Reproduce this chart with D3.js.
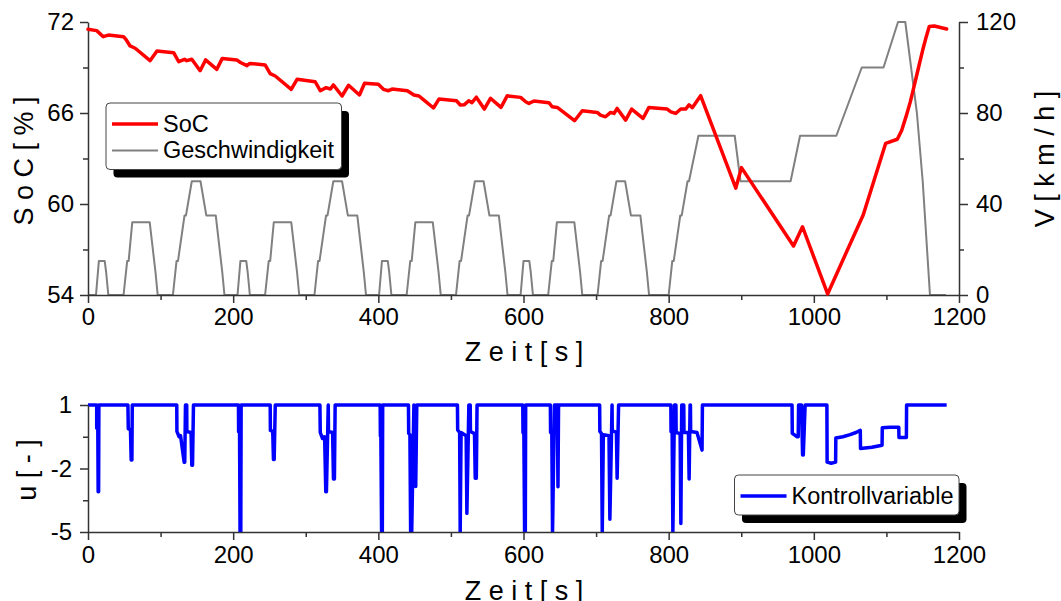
<!DOCTYPE html>
<html>
<head>
<meta charset="utf-8">
<script src="https://cdn.jsdelivr.net/npm/d3@7/dist/d3.min.js"></script>
<style>
  html, body { margin: 0; padding: 0; background: #fff; }
  svg { display: block; }
  text { font-family: "Liberation Sans", Arial, sans-serif; fill: #000; }
</style>
</head>
<body>
<svg id="chart" width="1061" height="601"></svg>
<script>
// ---- Fahrzyklus: Geschwindigkeit [km/h] über Zeit [s] ----
const speedTime = [
  0, 11, 15, 23, 25, 28, 49, 54, 56, 61, 85, 93, 96, 117, 122, 124, 133, 135, 143, 155, 163, 176, 185, 188,
  195, 206, 210, 218, 220, 223, 244, 249, 251, 256, 280, 288, 291, 312, 317, 319, 328, 330, 338, 350, 358, 371, 380, 383,
  390, 401, 405, 413, 415, 418, 439, 444, 446, 451, 475, 483, 486, 507, 512, 514, 523, 525, 533, 545, 553, 566, 575, 578,
  585, 596, 600, 608, 610, 613, 634, 639, 641, 646, 670, 678, 681, 702, 707, 709, 718, 720, 728, 740, 748, 761, 770, 773,
  780, 800, 805, 807, 816, 818, 826, 828, 841, 891, 899, 968, 981, 1031, 1066, 1096, 1116, 1126, 1142, 1150, 1160, 1182
];
const speedValue = [
  0, 0, 15, 15, 10, 0, 0, 15, 15, 32, 32, 10, 0, 0, 15, 15, 35, 35, 50, 50, 35, 35, 10, 0,
  0, 0, 15, 15, 10, 0, 0, 15, 15, 32, 32, 10, 0, 0, 15, 15, 35, 35, 50, 50, 35, 35, 10, 0,
  0, 0, 15, 15, 10, 0, 0, 15, 15, 32, 32, 10, 0, 0, 15, 15, 35, 35, 50, 50, 35, 35, 10, 0,
  0, 0, 15, 15, 10, 0, 0, 15, 15, 32, 32, 10, 0, 0, 15, 15, 35, 35, 50, 50, 35, 35, 10, 0,
  0, 0, 15, 15, 35, 35, 50, 50, 70, 70, 50, 50, 70, 70, 100, 100, 120, 120, 80, 50, 0, 0
];

// ---- Ladezustand SoC [%] ----
const socTime = [
  0, 12, 21, 28, 49, 53, 58, 65, 85.5, 95, 118, 125, 133, 136, 143, 154.5, 162, 177.5, 185,
  205, 210, 219, 223, 244, 251, 258, 280, 288, 313, 320, 328, 334, 338, 350, 359, 374, 381,
  400, 407, 414, 419, 440, 449, 456, 462.5, 476, 483.5, 507.6, 513, 518.6, 524.6, 529, 535, 546, 554.5, 569, 577.5,
  596, 603, 607.5, 614.5, 635, 639.5, 646.5, 670.3, 681, 701.6, 706, 713, 720, 724.6, 729, 740.7, 749, 764.6, 772.8,
  798, 803, 809.7, 816.6, 823.4, 828, 832.6, 844, 892.5, 900.3, 972, 984.4, 1019, 1068, 1099, 1115, 1121, 1127, 1133, 1138,
  1144, 1150, 1155, 1159, 1166, 1183
];
const socValue = [
  71.52, 71.43, 71.03, 71.14, 71.03, 70.8, 70.42, 70.27, 69.45, 70.09, 69.98, 69.38, 69.54, 69.45, 69.54, 68.79, 69.5, 68.88, 69.6,
  69.5, 69.33, 69.12, 69.27, 69.17, 68.6, 68.44, 67.56, 68.22, 68.06, 67.47, 67.67, 67.58, 67.85, 67.12, 67.83, 67.19, 67.96,
  67.89, 67.56, 67.47, 67.58, 67.47, 67.19, 67.12, 66.86, 66.33, 66.92, 66.81, 66.53, 66.55, 66.81, 66.68, 67.04, 66.26, 66.97, 66.37, 67.13,
  67.03, 66.74, 66.63, 66.79, 66.68, 66.41, 66.37, 65.49, 66.15, 66.04, 65.86, 65.75, 66.04, 65.97, 66.3, 65.53, 66.26, 65.64, 66.37,
  66.26, 66.08, 65.97, 66.26, 66.26, 66.53, 66.35, 67.14, 61.05, 62.4, 57.23, 58.5, 54.07, 59.28, 64.0, 64.27, 64.85, 65.76, 66.75, 67.74,
  68.95, 70.15, 71.05, 71.7, 71.74, 71.54
];

// ---- Kontrollvariable u [-] ----
const uTime = [
  0, 12, 12, 13.5, 14, 14.6, 15,
  55, 55.5, 58.5, 59.5, 60.5, 61,
  122.3, 122.5, 125.5, 127.5, 132.5, 133.3, 134.3, 136, 136.2, 142, 143, 144, 145.3,
  207.3, 207.5, 208.8, 209.5, 210.5, 211,
  251, 251.3, 254.5, 255.5, 256.5, 258,
  319.5, 320, 323, 326, 327.6, 328.5, 331, 331.3, 337, 338.2, 339.5, 340.5,
  402.5, 402.8, 403.5, 404.5, 405.5, 406,
  441.5, 441.8, 443.5, 444.5, 446, 449, 449.3, 450.5, 451.5, 453,
  509, 509.3, 512, 512.8, 514, 521, 522, 524.7, 526.6, 526.9, 532.5, 533.5, 535, 536,
  599, 599.3, 600.5, 601.5, 602.5, 603,
  637, 637.3, 639, 640, 642.6, 646.5, 647.5, 648.3,
  704.9, 705.2, 707.5, 708.5, 710, 717.8, 719, 722, 722.3, 728, 729, 731,
  803, 803.3, 804.8, 805.8, 808, 810, 810.3, 815.8, 816.8, 818, 820.8, 821.1, 827.2, 828.2, 829.5, 830, 830.3, 839, 846, 846.5,
  970, 970.3, 977, 978.5, 979, 983, 984.5, 985.5, 988,
  1018, 1018.3, 1024, 1030, 1030.3, 1040, 1050, 1058, 1064, 1064.3, 1080, 1094, 1094.3, 1105, 1117, 1117.3, 1127.5, 1127.8, 1183
];
const uValue = [
  1, 1, -0.1, -0.1, -3.1, -3.1, 1,
  1, -0.12, -0.15, -1.6, -1.6, 1,
  1, -0.25, -0.5, -0.45, -1.7, -1.7, 1, 1, -0.25, -0.3, -1.85, -1.85, 1,
  1, -0.26, -0.3, -5, -5, 1,
  1, -0.2, -0.25, -1.57, -1.57, 1,
  1, -0.3, -0.58, -0.5, -3.1, -3.1, 1, -0.25, -0.3, -2.5, -2.5, 1,
  1, -0.45, -0.5, -5, -5, 1,
  1, -0.34, -0.4, -5, -5, 1, -0.3, -0.35, -2.85, 1,
  1, -0.18, -0.3, -5, -0.3, -0.45, -4.12, 1, 1, -0.25, -0.35, -2.46, -2.46, 1,
  1, -0.3, -0.35, -5, -5, 1,
  1, -0.3, -0.35, -5, 1, 1, -2.86, 1,
  1, -0.25, -0.35, -5, -0.4, -0.45, -4.4, 1, -0.2, -0.3, -2.46, 1,
  1, -0.26, -0.3, -5, 1, 1, -0.3, -0.35, -4.6, 1, 1, -0.3, -0.3, -2.5, 1, 1, -0.25, -0.3, -1.13, 1,
  1, -0.34, -0.5, -0.5, 1, 1, -1.36, -1.36, 1,
  1, -1.7, -1.75, -1.7, -0.56, -0.5, -0.4, -0.3, -0.2, -1.06, -1.0, -0.9, -0.07, -0.05, -0.05, -0.53, -0.53, 1, 1
];

// ---- Achsen ----
const xTicks = [0, 200, 400, 600, 800, 1000, 1200];
const xMinorTicks = [100, 300, 500, 700, 900, 1100];
const socTicks = [54, 60, 66, 72];
const socMinorTicks = [57, 63, 69];
const speedTicks = [0, 40, 80, 120];
const speedMinorTicks = [20, 60, 100];
const uTicks = [-5, -2, 1];
const uMinorTicks = [-3.5, -0.5];

const svg = d3.select("#chart");
const FONT = 24;
const TITLE_FONT = 27;
const AXIS_COLOR = "#333";

const x = d3.scaleLinear().domain([0, 1200]).range([88, 959]);
const ySoc = d3.scaleLinear().domain([54, 72]).range([295, 22]);
const ySpeed = d3.scaleLinear().domain([0, 120]).range([295, 22]);
const yU = d3.scaleLinear().domain([-5, 1]).range([532, 405]);

// Ganzzahlige Beschriftung mit normalem Bindestrich als Minus
const plainInt = d => String(Math.round(d));

function styleAxis(g) {
  g.selectAll(".domain").attr("stroke", AXIS_COLOR).attr("stroke-width", 1.5);
  g.selectAll(".tick line").attr("stroke", AXIS_COLOR).attr("stroke-width", 1.5);
  g.selectAll(".tick text").attr("font-size", FONT)
    .attr("font-family", '"Liberation Sans", Arial, sans-serif').attr("fill", "#000");
}

function drawAxis(axisFn, scale, major, minor, transform, majorSize, minorSize, pad) {
  const gMinor = svg.append("g").attr("transform", transform)
    .call(axisFn(scale).tickValues(minor).tickSize(minorSize).tickFormat(""));
  gMinor.select(".domain").remove();
  styleAxis(gMinor);
  const gMajor = svg.append("g").attr("transform", transform)
    .call(axisFn(scale).tickValues(major).tickSize(majorSize).tickSizeOuter(0).tickPadding(pad).tickFormat(plainInt));
  styleAxis(gMajor);
  return gMajor;
}

const speedData = speedTime.map((t, i) => [t, speedValue[i]]);
const socData = socTime.map((t, i) => [t, socValue[i]]);
const uData = uTime.map((t, i) => [t, uValue[i]]);

// ---- Oberes Diagramm: SoC und Geschwindigkeit ----
svg.append("path")
  .datum(speedData)
  .attr("fill", "none")
  .attr("stroke", "#808080")
  .attr("stroke-width", 2)
  .attr("stroke-linejoin", "round")
  .attr("d", d3.line().x(d => x(d[0])).y(d => ySpeed(d[1])));

drawAxis(d3.axisLeft, ySoc, socTicks, socMinorTicks, "translate(88,0)", 8, 5, 6);
drawAxis(d3.axisRight, ySpeed, speedTicks, speedMinorTicks, "translate(959,0)", 9, 5, 8);
drawAxis(d3.axisBottom, x, xTicks, xMinorTicks, "translate(0,295)", 8, 5, 5);

svg.append("path")
  .datum(socData)
  .attr("fill", "none")
  .attr("stroke", "#ff0000")
  .attr("stroke-width", 3.5)
  .attr("stroke-linejoin", "round")
  .attr("stroke-linecap", "round")
  .attr("d", d3.line().x(d => x(d[0])).y(d => ySoc(d[1])));

// Achsentitel
svg.append("text").attr("x", 524).attr("y", 361).attr("text-anchor", "middle")
  .attr("font-size", TITLE_FONT).text("Z e i t [ s ]");
svg.append("text").attr("transform", "translate(33,161) rotate(-90)").attr("text-anchor", "middle")
  .attr("font-size", TITLE_FONT).text("S o C  [ % ]");
svg.append("text").attr("transform", "translate(1054,159) rotate(-90)").attr("text-anchor", "middle")
  .attr("font-size", TITLE_FONT).text("V [ k m / h ]");

// ---- Unteres Diagramm: Kontrollvariable ----
svg.append("defs").append("clipPath").attr("id", "clipU")
  .append("rect").attr("x", 88).attr("y", 398).attr("width", 871).attr("height", 134);

svg.append("path")
  .datum(uData)
  .attr("clip-path", "url(#clipU)")
  .attr("fill", "none")
  .attr("stroke", "#0000ff")
  .attr("stroke-width", 3.5)
  .attr("stroke-linejoin", "round")
  .attr("d", d3.line().x(d => x(d[0])).y(d => yU(d[1])));

drawAxis(d3.axisLeft, yU, uTicks, uMinorTicks, "translate(88,0)", 8, 5, 8);
drawAxis(d3.axisBottom, x, xTicks, xMinorTicks, "translate(0,532)", 8, 5, 6);

svg.append("text").attr("x", 524).attr("y", 600).attr("text-anchor", "middle")
  .attr("font-size", TITLE_FONT).text("Z e i t [ s ]");
svg.append("text").attr("transform", "translate(36,470) rotate(-90)").attr("text-anchor", "middle")
  .attr("font-size", TITLE_FONT).text("u [ - ]");

// ---- Legenden ----
function legend(x0, y0, w, h, items) {
  const g = svg.append("g");
  g.append("rect").attr("x", x0 + 7.5).attr("y", y0 + 8).attr("width", w).attr("height", h)
    .attr("rx", 4).attr("fill", "#000");
  g.append("rect").attr("x", x0).attr("y", y0).attr("width", w).attr("height", h)
    .attr("rx", 4).attr("fill", "#fff").attr("stroke", "#444").attr("stroke-width", 1);
  items.forEach(it => {
    g.append("line").attr("x1", x0 + 6).attr("x2", x0 + 52).attr("y1", it.y).attr("y2", it.y)
      .attr("stroke", it.color).attr("stroke-width", it.width);
    g.append("text").attr("x", x0 + 57).attr("y", it.y + 7.5).attr("font-size", 23.5).text(it.label);
  });
}

legend(106, 103, 235.5, 66.5, [
  { label: "SoC", color: "#ff0000", width: 3.5, y: 124 },
  { label: "Geschwindigkeit", color: "#808080", width: 2, y: 150.5 }
]);
legend(734.5, 475, 224.5, 40, [
  { label: "Kontrollvariable", color: "#0000ff", width: 3.5, y: 496 }
]);
</script>
</body>
</html>
